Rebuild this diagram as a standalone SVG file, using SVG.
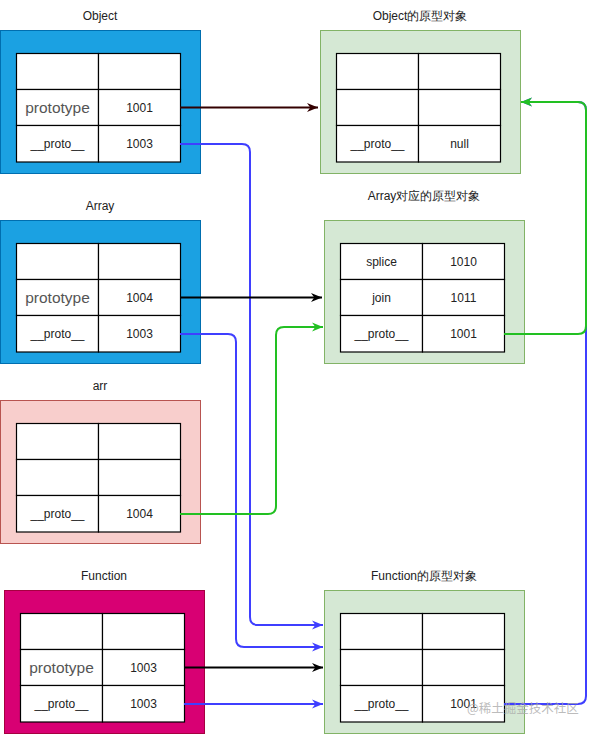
<svg xmlns="http://www.w3.org/2000/svg" width="596" height="735" viewBox="0 0 596 735">
<style>
.lbl{font-family:"Liberation Sans",Arial,sans-serif;font-size:12px;fill:#222;text-anchor:middle;dominant-baseline:central}
.cell{fill:#fff;stroke:#000;stroke-width:1.2}
.t{font-family:"Liberation Sans",Arial,sans-serif;font-size:12px;fill:#222;text-anchor:middle;dominant-baseline:central}
.big{font-family:"Liberation Sans",Arial,sans-serif;font-size:15.5px;fill:#555;text-anchor:middle;dominant-baseline:central}
.blue{fill:#1ba1e2;stroke:#006eaf}
.pink{fill:#f8cecc;stroke:#b85450}
.mag{fill:#d80073;stroke:#a50040}
.grn{fill:#d5e8d4;stroke:#82b366}
.e{fill:none;stroke-width:2}
.wm{font-family:"Noto Sans CJK SC","Liberation Sans",sans-serif;font-size:12.5px;fill:#aaa;fill-opacity:0.8}
</style>
<defs>
<marker id="aB" viewBox="0 0 10 10" refX="10" refY="5" markerWidth="11" markerHeight="11" markerUnits="userSpaceOnUse" orient="auto"><path d="M0,1 L10,5 L0,9 L3,5 Z" fill="#3f3fff"/></marker>
<marker id="aK" viewBox="0 0 10 10" refX="10" refY="5" markerWidth="11" markerHeight="11" markerUnits="userSpaceOnUse" orient="auto"><path d="M0,1 L10,5 L0,9 L3,5 Z" fill="#000"/></marker>
<marker id="aR" viewBox="0 0 10 10" refX="10" refY="5" markerWidth="11" markerHeight="11" markerUnits="userSpaceOnUse" orient="auto"><path d="M0,1 L10,5 L0,9 L3,5 Z" fill="#330000"/></marker>
<marker id="aG" viewBox="0 0 10 10" refX="10" refY="5" markerWidth="11" markerHeight="11" markerUnits="userSpaceOnUse" orient="auto"><path d="M0,1 L10,5 L0,9 L3,5 Z" fill="#22c022"/></marker>
</defs>

<g id="object">
<text class="lbl" x="100" y="16">Object</text>
<rect class="blue" x="0.5" y="30.5" width="200" height="143"/>
<rect class="cell" x="16.5" y="53.5" width="82" height="36"/><rect class="cell" x="98.5" y="53.5" width="82" height="36"/>
<rect class="cell" x="16.5" y="89.5" width="82" height="36"/><rect class="cell" x="98.5" y="89.5" width="82" height="36"/>
<rect class="cell" x="16.5" y="125.5" width="82" height="36.5"/><rect class="cell" x="98.5" y="125.5" width="82" height="36.5"/>
<text class="big" x="57.5" y="107.5">prototype</text><text class="t" x="139.5" y="107.5">1001</text>
<text class="t" x="57.5" y="144">__proto__</text><text class="t" x="139.5" y="144">1003</text>
</g>

<g id="object-proto">
<text class="lbl" x="420" y="16">Object的原型对象</text>
<rect class="grn" x="320.5" y="30.5" width="200" height="143"/>
<rect class="cell" x="336.5" y="53.5" width="82" height="36"/><rect class="cell" x="418.5" y="53.5" width="82" height="36"/>
<rect class="cell" x="336.5" y="89.5" width="82" height="36"/><rect class="cell" x="418.5" y="89.5" width="82" height="36"/>
<rect class="cell" x="336.5" y="125.5" width="82" height="36.5"/><rect class="cell" x="418.5" y="125.5" width="82" height="36.5"/>
<text class="t" x="377.5" y="144">__proto__</text><text class="t" x="459.5" y="144">null</text>
</g>

<g id="array">
<text class="lbl" x="100" y="206">Array</text>
<rect class="blue" x="0.5" y="220.5" width="200" height="143"/>
<rect class="cell" x="16.5" y="243.5" width="82" height="36"/><rect class="cell" x="98.5" y="243.5" width="82" height="36"/>
<rect class="cell" x="16.5" y="279.5" width="82" height="36"/><rect class="cell" x="98.5" y="279.5" width="82" height="36"/>
<rect class="cell" x="16.5" y="315.5" width="82" height="36.5"/><rect class="cell" x="98.5" y="315.5" width="82" height="36.5"/>
<text class="big" x="57.5" y="297.5">prototype</text><text class="t" x="139.5" y="297.5">1004</text>
<text class="t" x="57.5" y="334">__proto__</text><text class="t" x="139.5" y="334">1003</text>
</g>

<g id="array-proto">
<text class="lbl" x="424" y="196">Array对应的原型对象</text>
<rect class="grn" x="324.5" y="220.5" width="200" height="143"/>
<rect class="cell" x="340.5" y="243.5" width="82" height="36"/><rect class="cell" x="422.5" y="243.5" width="82" height="36"/>
<rect class="cell" x="340.5" y="279.5" width="82" height="36"/><rect class="cell" x="422.5" y="279.5" width="82" height="36"/>
<rect class="cell" x="340.5" y="315.5" width="82" height="36.5"/><rect class="cell" x="422.5" y="315.5" width="82" height="36.5"/>
<text class="t" x="381.5" y="261.5">splice</text><text class="t" x="463.5" y="261.5">1010</text>
<text class="t" x="381.5" y="297.5">join</text><text class="t" x="463.5" y="297.5">1011</text>
<text class="t" x="381.5" y="334">__proto__</text><text class="t" x="463.5" y="334">1001</text>
</g>

<g id="arr">
<text class="lbl" x="100" y="386">arr</text>
<rect class="pink" x="0.5" y="400.5" width="200" height="143"/>
<rect class="cell" x="16.5" y="423.5" width="82" height="36"/><rect class="cell" x="98.5" y="423.5" width="82" height="36"/>
<rect class="cell" x="16.5" y="459.5" width="82" height="36"/><rect class="cell" x="98.5" y="459.5" width="82" height="36"/>
<rect class="cell" x="16.5" y="495.5" width="82" height="36.5"/><rect class="cell" x="98.5" y="495.5" width="82" height="36.5"/>
<text class="t" x="57.5" y="514">__proto__</text><text class="t" x="139.5" y="514">1004</text>
</g>

<g id="function">
<text class="lbl" x="104" y="576">Function</text>
<rect class="mag" x="4.5" y="590.5" width="200" height="143"/>
<rect class="cell" x="20.5" y="613.5" width="82" height="36"/><rect class="cell" x="102.5" y="613.5" width="82" height="36"/>
<rect class="cell" x="20.5" y="649.5" width="82" height="36"/><rect class="cell" x="102.5" y="649.5" width="82" height="36"/>
<rect class="cell" x="20.5" y="685.5" width="82" height="36.5"/><rect class="cell" x="102.5" y="685.5" width="82" height="36.5"/>
<text class="big" x="61.5" y="667.5">prototype</text><text class="t" x="143.5" y="667.5">1003</text>
<text class="t" x="61.5" y="704">__proto__</text><text class="t" x="143.5" y="704">1003</text>
</g>

<g id="function-proto">
<text class="lbl" x="424" y="576">Function的原型对象</text>
<rect class="grn" x="324.5" y="590.5" width="200" height="143"/>
<rect class="cell" x="340.5" y="613.5" width="82" height="36"/><rect class="cell" x="422.5" y="613.5" width="82" height="36"/>
<rect class="cell" x="340.5" y="649.5" width="82" height="36"/><rect class="cell" x="422.5" y="649.5" width="82" height="36"/>
<rect class="cell" x="340.5" y="685.5" width="82" height="36.5"/><rect class="cell" x="422.5" y="685.5" width="82" height="36.5"/>
<text class="t" x="381.5" y="704">__proto__</text><text class="t" x="463.5" y="704">1001</text>
</g>

<g id="connectors">
<path class="e" stroke="#330000" d="M180,107.5 H318" marker-end="url(#aR)"/>
<path class="e" stroke="#3f3fff" d="M180,144 H242 Q250,144 250,152 V617 Q250,625 258,625 H323" marker-end="url(#aB)"/>
<path class="e" stroke="#000" d="M180,297.5 H322" marker-end="url(#aK)"/>
<path class="e" stroke="#3f3fff" d="M180,334 H228 Q236,334 236,342 V639 Q236,647 244,647 H323" marker-end="url(#aB)"/>
<path class="e" stroke="#22c022" d="M180,514 H268 Q276,514 276,506 V335 Q276,327 284,327 H323" marker-end="url(#aG)"/>
<path class="e" stroke="#000" d="M184,667.5 H323" marker-end="url(#aK)"/>
<path class="e" stroke="#3f3fff" d="M184,704 H323" marker-end="url(#aB)"/>
<path class="e" stroke="#3f3fff" d="M504,704 H578 Q586,704 586,696 V110 Q586,102 578,102 H521" marker-end="url(#aB)"/>
<path class="e" stroke="#22c022" d="M504,334 H578 Q586,334 586,326 V110 Q586,102 578,102 H521" marker-end="url(#aG)"/>
</g>

<text class="wm" x="467" y="713">@稀土掘金技术社区</text>
</svg>
